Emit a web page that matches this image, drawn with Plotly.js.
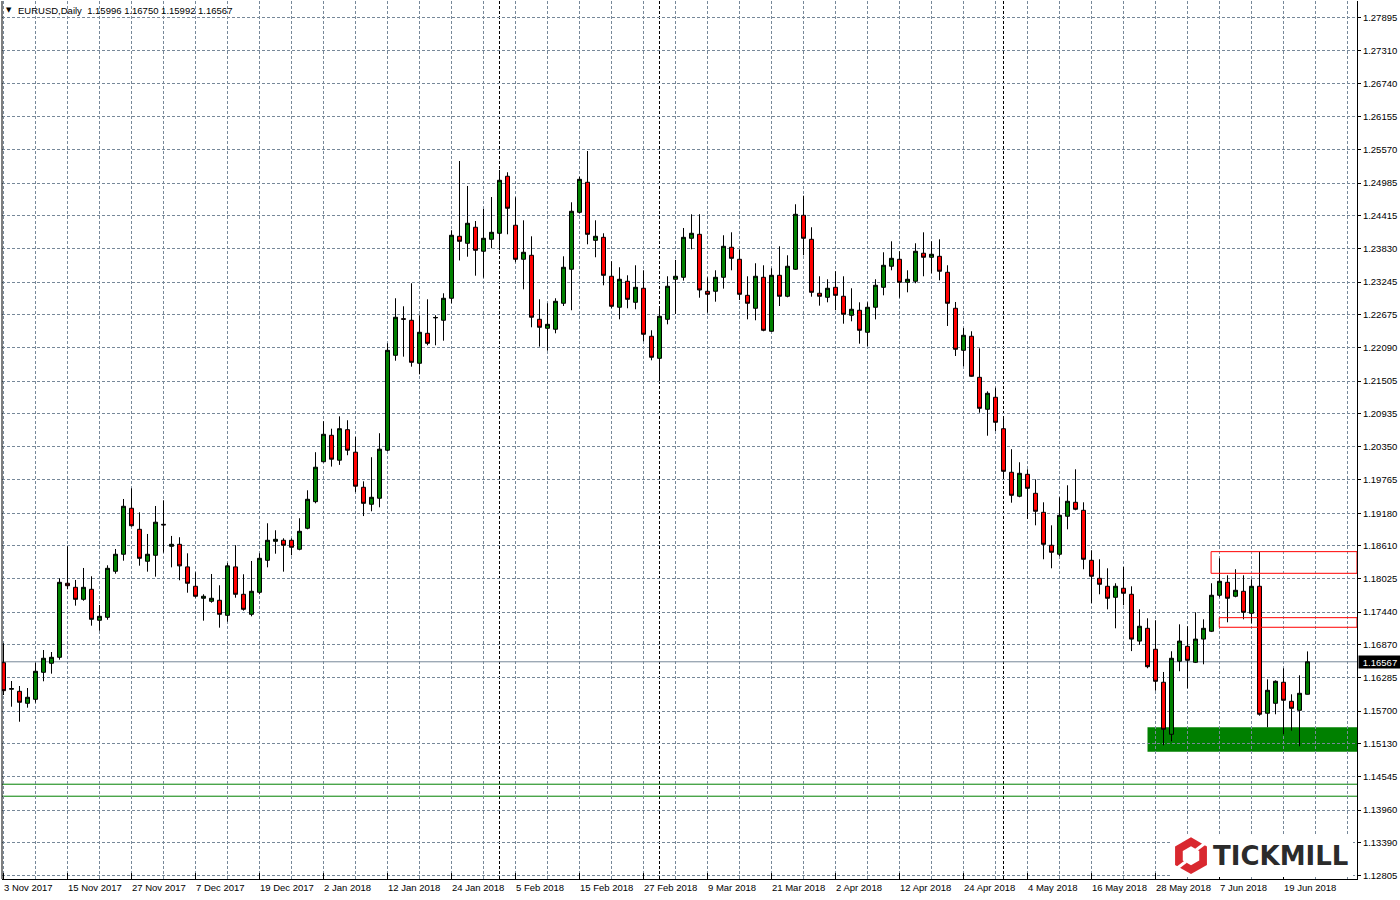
<!DOCTYPE html>
<html><head><meta charset="utf-8">
<script src="https://cdn.plot.ly/plotly-3.0.1.min.js"></script>
<style>html,body{margin:0;padding:0;background:#fff;overflow:hidden}#chart{width:1400px;height:900px}</style>
</head><body><div id="chart"></div>
<script>
// ---- data: EURUSD daily candles, 3 Nov 2017 .. 22 Jun 2018 ----
const open = [
1.16551,1.16085,1.16048,1.15837,1.15907,1.16382,1.16541,1.16646,1.17948,1.17877,
1.17666,1.17842,1.17297,1.17349,1.18159,1.18458,1.19267,1.18897,1.18335,1.18440,
1.18985,1.18598,1.18633,1.18236,1.17895,1.17684,1.17631,1.17649,1.17384,1.18236,
1.17754,1.17402,1.17789,1.18352,1.18686,1.18704,1.18704,1.18546,1.18915,1.19383,
1.20086,1.20550,1.20112,1.20649,1.20253,1.19636,1.19337,1.19443,1.20288,1.21957,
1.22600,1.22573,1.21817,1.22344,1.22615,1.22573,1.22960,1.24050,1.23927,1.24209,
1.23787,1.23997,1.24103,1.25106,1.24244,1.23646,1.23716,1.22590,1.22432,1.22415,
1.22872,1.23470,1.24472,1.25000,1.23979,1.24032,1.23347,1.22802,1.23259,1.22889,
1.23136,1.22292,1.21904,1.22590,1.23294,1.23329,1.24015,1.24085,1.23083,1.23083,
1.23329,1.23857,1.23646,1.23012,1.22784,1.23329,1.22380,1.23364,1.22995,1.23470,
1.24419,1.23997,1.23048,1.22977,1.23153,1.22995,1.22661,1.22749,1.22362,1.22802,
1.23153,1.23523,1.23646,1.23241,1.23259,1.23752,1.23681,1.23698,1.23417,1.22784,
1.22045,1.22292,1.21570,1.21008,1.21219,1.20666,1.19900,1.19478,1.19864,1.19530,
1.19196,1.18616,1.18458,1.19126,1.19372,1.19231,1.18352,1.18035,1.17895,1.17701,
1.17860,1.17754,1.16931,1.17156,1.16787,1.16207,1.15292,1.16576,1.16839,1.16558,
1.16966,1.17104,1.17737,1.17965,1.17719,1.17807,1.17420,1.17895,1.15662,1.15837,
1.16207,1.15872,1.15714,1.15996];
const high = [
1.16892,1.16229,1.16141,1.16106,1.16551,1.16774,1.16739,1.18035,1.18598,1.18006,
1.18217,1.18071,1.17566,1.18264,1.18551,1.19430,1.19618,1.19196,1.18815,1.19307,
1.19407,1.18780,1.18757,1.18475,1.18141,1.17754,1.18111,1.17912,1.18307,1.18616,
1.18106,1.18340,1.18475,1.19003,1.18880,1.18739,1.18739,1.19091,1.19583,1.20253,
1.20797,1.20666,1.20883,1.20815,1.20521,1.19741,1.20165,1.20587,1.22168,1.22960,
1.22819,1.23224,1.22661,1.22942,1.22661,1.23048,1.24156,1.25374,1.24935,1.24319,
1.24530,1.24741,1.25216,1.25176,1.24736,1.24331,1.24050,1.22942,1.22872,1.22960,
1.23698,1.24648,1.25098,1.25550,1.24331,1.24103,1.23611,1.23505,1.23364,1.23540,
1.23452,1.22397,1.22784,1.23347,1.23634,1.24196,1.24437,1.24437,1.23329,1.23452,
1.24068,1.24120,1.23822,1.23347,1.23576,1.23540,1.23487,1.23874,1.23716,1.24613,
1.24764,1.24209,1.23347,1.23294,1.23435,1.23347,1.23136,1.22889,1.22889,1.23294,
1.23769,1.23962,1.23787,1.23452,1.23927,1.24120,1.23962,1.23997,1.23540,1.22895,
1.22438,1.22380,1.22080,1.21324,1.21388,1.20878,1.20306,1.20076,1.19952,1.19776,
1.19372,1.18967,1.19460,1.19671,1.19952,1.19372,1.18528,1.18370,1.18211,1.17948,
1.18235,1.17895,1.17490,1.17332,1.17297,1.16388,1.16752,1.17226,1.17192,1.17437,
1.17314,1.17948,1.18387,1.18088,1.18194,1.18088,1.18018,1.18504,1.16259,1.16240,
1.16453,1.15995,1.16329,1.16750];
const low = [
1.15983,1.15777,1.15513,1.15760,1.15848,1.16224,1.16358,1.16604,1.17842,1.17554,
1.17641,1.17202,1.17113,1.17307,1.18116,1.18345,1.18943,1.18257,1.18152,1.18064,
1.18486,1.18228,1.18001,1.17782,1.17694,1.17290,1.17606,1.17167,1.17272,1.17694,
1.17466,1.17367,1.17754,1.18228,1.18468,1.18152,1.18440,1.18528,1.18897,1.19354,
1.20072,1.20000,1.20030,1.20200,1.19550,1.19130,1.19214,1.19284,1.20270,1.21862,
1.21933,1.21757,1.21623,1.22133,1.22133,1.22214,1.22872,1.23625,1.23691,1.23357,
1.23322,1.23839,1.23804,1.24085,1.23593,1.23118,1.22450,1.22109,1.22038,1.22344,
1.22824,1.22749,1.24455,1.23909,1.23681,1.23188,1.22784,1.22590,1.22784,1.22767,
1.22203,1.21869,1.21500,1.22502,1.22684,1.23270,1.23822,1.22970,1.22707,1.22900,
1.23129,1.23452,1.22930,1.22590,1.22573,1.22380,1.22368,1.22824,1.22977,1.23458,
1.23716,1.22988,1.22830,1.22889,1.22749,1.22513,1.22555,1.22161,1.22116,1.22590,
1.23012,1.23452,1.22970,1.23065,1.23224,1.23347,1.23400,1.23276,1.22473,1.21945,
1.21764,1.21580,1.20948,1.20543,1.20626,1.19794,1.19365,1.19460,1.19077,1.18967,
1.18370,1.18211,1.18423,1.18897,1.19232,1.18194,1.17601,1.17754,1.17490,1.17156,
1.17561,1.16755,1.16864,1.16453,1.16059,1.15098,1.15169,1.16400,1.16101,1.16545,
1.16523,1.17090,1.17701,1.17262,1.17701,1.17314,1.17244,1.15619,1.15415,1.15644,
1.15292,1.15355,1.15081,1.15992];
const close = [
1.16059,1.16095,1.15855,1.15943,1.16400,1.16629,1.16646,1.17965,1.17905,1.17666,
1.17877,1.17314,1.17367,1.18211,1.18458,1.19302,1.18960,1.18387,1.18458,1.19022,
1.18975,1.18633,1.18254,1.17948,1.17719,1.17719,1.17684,1.17402,1.18254,1.17754,
1.17490,1.17807,1.18387,1.18704,1.18721,1.18616,1.18581,1.18862,1.19425,1.19989,
1.20568,1.20130,1.20666,1.20288,1.19655,1.19354,1.19460,1.20306,1.22045,1.22626,
1.22592,1.21834,1.22362,1.22168,1.22622,1.22960,1.24068,1.23962,1.24279,1.23804,
1.24015,1.24120,1.25035,1.24543,1.23646,1.23769,1.22626,1.22450,1.22502,1.22907,
1.23505,1.24490,1.25052,1.24085,1.24050,1.23364,1.22819,1.23294,1.22942,1.23153,
1.22327,1.21922,1.22643,1.23171,1.23347,1.24032,1.24103,1.23106,1.23030,1.23329,
1.23874,1.23663,1.23030,1.22872,1.23347,1.22397,1.23364,1.22995,1.23523,1.24437,
1.24015,1.23065,1.22995,1.23136,1.23012,1.22678,1.22767,1.22397,1.22802,1.23188,
1.23540,1.23663,1.23241,1.23294,1.23787,1.23681,1.23734,1.23435,1.22872,1.22063,
1.22309,1.21588,1.21025,1.21289,1.20779,1.19917,1.19495,1.19882,1.19618,1.19214,
1.18633,1.18493,1.19143,1.19390,1.19249,1.18370,1.18071,1.17930,1.17684,1.17895,
1.17772,1.16966,1.17192,1.16481,1.16224,1.15380,1.16629,1.16931,1.16593,1.16966,
1.17156,1.17737,1.17983,1.17684,1.17825,1.17437,1.17895,1.15644,1.16066,1.16224,
1.15890,1.15749,1.16013,1.16567];

// date axis labels (every 8th bar)
const dateLabels = ["3 Nov 2017","15 Nov 2017","27 Nov 2017","7 Dec 2017","19 Dec 2017","2 Jan 2018",
  "12 Jan 2018","24 Jan 2018","5 Feb 2018","15 Feb 2018","27 Feb 2018","9 Mar 2018","21 Mar 2018",
  "2 Apr 2018","12 Apr 2018","24 Apr 2018","4 May 2018","16 May 2018","28 May 2018","7 Jun 2018","19 Jun 2018"];
const dateLabelBars = [0,8,16,24,32,40,48,56,64,72,80,88,96,104,112,120,128,136,144,152,160];
// first bar of each month (period separators)
const monthStartBars = [20,40,62,82,104,125,148];
// price axis ticks
const priceTicks = [1.27895,1.27310,1.26740,1.26155,1.25570,1.24985,1.24415,1.23830,1.23245,1.22675,
  1.22090,1.21505,1.20935,1.20350,1.19765,1.19180,1.18610,1.18025,1.17440,1.16870,1.16285,1.15700,
  1.15130,1.14545,1.13960,1.13390,1.12805];
// drawn objects
const supportZone = {startBar: 143, low: 1.14985, high: 1.15414};
const resistanceBoxes = [{startBar: 150.95, low: 1.18123, high: 1.18504},
                         {startBar: 151.97, low: 1.17174, high: 1.17343}];
const greenLevels = [1.14414, 1.14203];
const symbol = "EURUSD,Daily";

// ---- geometry ----
const W = 1400, H = 900;
const M = {l: 2, r: 43, t: 1, b: 21};
const plotW = W - M.l - M.r, plotH = H - M.t - M.b;
const xRange = [-0.1875, 169.1875];
const yRange = [1.12747, 1.28188];
const px2paperX = px => (px - M.l) / plotW;
const py2paperY = py => (H - M.b - py) / plotH;

const GRID = '#778899';
const DASH = '3px,2px';
const FONT = 'Liberation Sans, Arial, sans-serif';
const n = open.length;
const bars = open.map((_, i) => i);
const last = n - 1;

const trace = {
  type: 'candlestick', x: bars, open: open, high: high, low: low, close: close,
  increasing: {line: {color: '#000000', width: 1}, fillcolor: '#008000'},
  decreasing: {line: {color: '#000000', width: 1}, fillcolor: '#ff0000'},
  whiskerwidth: 0, hoverinfo: 'skip', showlegend: false
};

const shapes = [];
// support zone (filled, under grid)
shapes.push({type: 'rect', xref: 'x', yref: 'y', x0: supportZone.startBar, x1: xRange[1],
  y0: supportZone.low, y1: supportZone.high, fillcolor: '#008000', line: {width: 0}, layer: 'below'});
// month separators
monthStartBars.forEach(b => shapes.push({type: 'line', xref: 'x', yref: 'paper', x0: b, x1: b, y0: 0, y1: 1,
  line: {color: '#000000', width: 1, dash: DASH}, layer: 'between'}));
// green horizontal levels
greenLevels.forEach(v => shapes.push({type: 'line', xref: 'paper', yref: 'y', x0: 0, x1: 1, y0: v, y1: v,
  line: {color: '#008000', width: 1}, layer: 'between'}));
// current price line
shapes.push({type: 'line', xref: 'paper', yref: 'y', x0: 0, x1: 1, y0: close[last], y1: close[last],
  line: {color: GRID, width: 1}, layer: 'between'});
// red rectangles
resistanceBoxes.forEach(r => shapes.push({type: 'rect', xref: 'x', yref: 'y', x0: r.startBar, x1: xRange[1],
  y0: r.low, y1: r.high, line: {color: '#ff0000', width: 1}, fillcolor: 'rgba(0,0,0,0)', layer: 'above'}));
// date tick marks
dateLabelBars.forEach(b => shapes.push({type: 'line', xref: 'x', yref: 'paper', x0: b, x1: b, y0: 0, y1: 6 / plotH,
  line: {color: '#000000', width: 1}, layer: 'above'}));
// left border
shapes.push({type: 'line', xref: 'paper', yref: 'paper', x0: 0, x1: 0, y0: 0, y1: 1,
  line: {color: '#000000', width: 1}, layer: 'above'});

// ---- Tickmill logo ----
shapes.push({type: 'rect', xref: 'paper', yref: 'paper', x0: px2paperX(1170), x1: px2paperX(1353),
  y0: py2paperY(877), y1: py2paperY(835), fillcolor: '#ffffff', line: {width: 0}, layer: 'above'});
function hexPath(cx, cy, R) {
  const pts = [];
  for (let k = 0; k < 6; k++) {
    const a = Math.PI / 2 + k * Math.PI / 3;
    pts.push([px2paperX(cx + R * Math.cos(a)), py2paperY(cy - R * Math.sin(a))]);
  }
  return 'M' + pts.map(p => p[0].toFixed(6) + ',' + p[1].toFixed(6)).join('L') + 'Z';
}
shapes.push({type: 'path', xref: 'paper', yref: 'paper', path: hexPath(1191, 855.7, 18.4),
  fillcolor: '#d9282f', line: {width: 0}, layer: 'above'});
shapes.push({type: 'path', xref: 'paper', yref: 'paper', path: hexPath(1191, 855.7, 9.5),
  fillcolor: '#ffffff', line: {width: 0}, layer: 'above'});
[[1196, 850, 1206, 842.5], [1176, 869, 1186, 861.5]].forEach(s => shapes.push({type: 'line', xref: 'paper', yref: 'paper',
  x0: px2paperX(s[0]), y0: py2paperY(s[1]), x1: px2paperX(s[2]), y1: py2paperY(s[3]),
  line: {color: '#ffffff', width: 3}, layer: 'above'}));

// ---- annotations ----
const annotations = [];
dateLabels.forEach((t, k) => annotations.push({xref: 'x', yref: 'paper', x: dateLabelBars[k], y: py2paperY(887),
  xanchor: 'left', yanchor: 'middle', xshift: -2, text: t, showarrow: false,
  font: {family: FONT, size: 9.5, color: '#000000'}}));
annotations.push({xref: 'paper', yref: 'paper', x: px2paperX(4), y: py2paperY(10), xanchor: 'left', yanchor: 'middle',
  text: '▼', showarrow: false, font: {family: 'DejaVu Sans', size: 7, color: '#000000'}});
annotations.push({xref: 'paper', yref: 'paper', x: px2paperX(16), y: py2paperY(10.5), xanchor: 'left', yanchor: 'middle',
  text: symbol + '  ' + [open[last], high[last], low[last], close[last]].map(v => v.toFixed(5)).join(' '),
  showarrow: false, font: {family: FONT, size: 9.5, color: '#000000'}});
annotations.push({xref: 'paper', yref: 'y', x: 1, y: close[last], xanchor: 'left', yanchor: 'middle', xshift: 1,
  text: close[last].toFixed(5), showarrow: false, bgcolor: '#000000', width: 40, height: 10, borderpad: 1,
  font: {family: FONT, size: 9.5, color: '#ffffff'}});
annotations.push({xref: 'paper', yref: 'paper', x: px2paperX(1211), y: py2paperY(856), xanchor: 'left', yanchor: 'middle',
  text: '<b>TICKMILL</b>', showarrow: false, font: {family: 'DejaVu Sans', size: 26, color: '#2b2b2b'}});

const layout = {
  width: W, height: H, margin: {l: M.l, r: M.r, t: M.t, b: M.b, pad: 0},
  paper_bgcolor: '#ffffff', plot_bgcolor: '#ffffff', showlegend: false,
  boxgap: 0.5, boxgroupgap: 0, boxmode: 'overlay',
  dragmode: false, hovermode: false,
  xaxis: {range: xRange, type: 'linear', rangeslider: {visible: false}, fixedrange: true,
    tickvals: dateLabelBars, showticklabels: false, ticks: '',
    showgrid: true, gridcolor: GRID, griddash: DASH, gridwidth: 1, zeroline: false,
    minor: {tick0: 0, dtick: 4, showgrid: true, gridcolor: GRID, griddash: DASH, gridwidth: 1, ticks: ''},
    showline: true, linecolor: '#000000', linewidth: 1},
  yaxis: {range: yRange, side: 'right', fixedrange: true, tickvals: priceTicks,
    ticktext: priceTicks.map(v => v.toFixed(5)), ticks: 'outside', ticklen: 3, tickcolor: '#000000',
    tickfont: {family: FONT, size: 9.5, color: '#000000'},
    showgrid: true, gridcolor: GRID, griddash: DASH, gridwidth: 1, zeroline: false,
    showline: true, linecolor: '#000000', linewidth: 1},
  shapes: shapes, annotations: annotations
};

Plotly.newPlot('chart', [trace], layout, {staticPlot: true, displayModeBar: false});
</script></body></html>
